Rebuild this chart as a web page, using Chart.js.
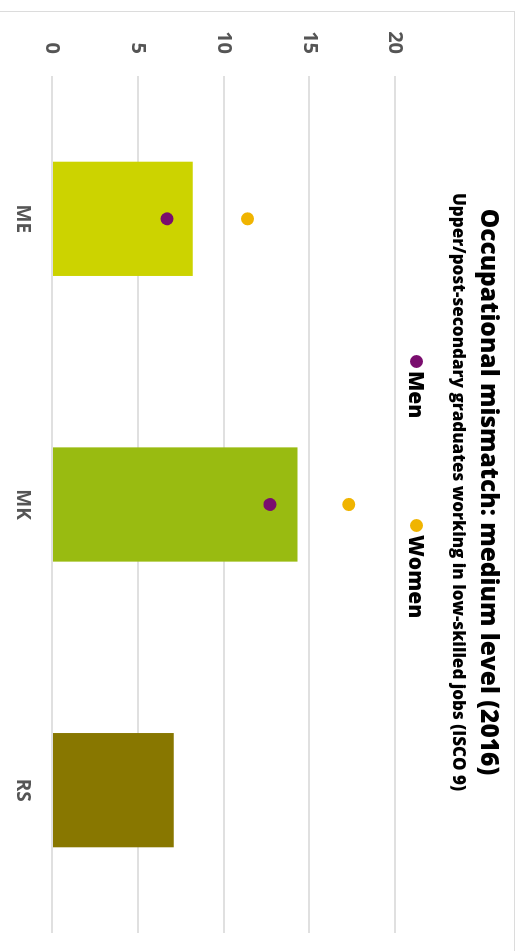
<!DOCTYPE html>
<html>
<head>
<meta charset="utf-8">
<script src="https://cdn.jsdelivr.net/npm/chart.js@4.4.1/dist/chart.umd.min.js"></script>
<style>
  html, body { margin: 0; padding: 0; background: #fff; overflow: hidden; }
  #wrap {
    position: absolute; left: 0; top: 0;
    width: 951px; height: 523px;
    transform-origin: 0 0;
    transform: translate(523px, 0) rotate(90deg);
    overflow: hidden; background: #fff;
  }
  #frame {
    position: absolute; left: 11px; top: 8px;
    width: 960px; height: 515px;
    border-left: 1px solid #dcdcdc; border-top: 1px solid #dcdcdc;
  }
  #frame canvas { position: absolute; left: 0; top: 0; }
  .leg { position: absolute; top: 92px; font: 800 21px "Open Sans", sans-serif; color: #000; line-height: 28px; white-space: nowrap; }
  .leg i { display: inline-block; width: 13px; height: 13px; border-radius: 50%; margin-right: 3px; vertical-align: 1px; }
</style>
</head>
<body>
<div id="wrap">
  <div id="frame"><canvas id="chart" width="960" height="515"></canvas></div>
  <div class="leg" style="left:355px"><i style="background:#7a0d6e"></i>Men</div>
  <div class="leg" style="left:519px"><i style="background:#f0b400"></i>Women</div>
</div>
<script>
// chart data
const categories = ['ME', 'MK', 'RS'];
const totalValues = [8.2, 14.3, 7.1];
const menValues = [6.7, 12.7, null];
const womenValues = [11.4, 17.3, null];
const barColors = ['#ccd300', '#99bb11', '#887700'];
const yTicks = [0, 5, 10, 15, 20];

const font = '"Open Sans", sans-serif';

new Chart(document.getElementById('chart'), {
    data: {
        labels: categories,
        datasets: [
            {
                type: 'line', label: 'Men', data: menValues,
                showLine: false, pointRadius: 6.5, pointHoverRadius: 6.5,
                pointBackgroundColor: '#7a0d6e', pointBorderWidth: 0, order: 1
            },
            {
                type: 'line', label: 'Women', data: womenValues,
                showLine: false, pointRadius: 6.5, pointHoverRadius: 6.5,
                pointBackgroundColor: '#f0b400', pointBorderWidth: 0, order: 1
            },
            {
                type: 'bar', label: 'Total', data: totalValues,
                backgroundColor: barColors, borderWidth: 0,
                barPercentage: 0.4, categoryPercentage: 1, order: 2
            }
        ]
    },
    options: {
        responsive: false,
        animation: false,
        layout: { padding: 0 },
        plugins: {
            legend: { display: false },
            tooltip: { enabled: false },
            title: {
                display: true,
                text: 'Occupational mismatch: medium level (2016)',
                color: '#000',
                font: { family: font, size: 24.5, weight: 800, lineHeight: 1.2 },
                padding: { top: 11, bottom: 0 }
            },
            subtitle: {
                display: true,
                text: 'Upper/post-secondary graduates working in low-skilled jobs (ISCO 9)',
                color: '#000',
                font: { family: font, size: 17, weight: 800, lineHeight: 1.2 },
                padding: { top: 6, bottom: 52 }
            }
        },
        scales: {
            x: {
                grid: { display: false },
                border: { display: false },
                ticks: { color: '#555', padding: 10, font: { family: font, size: 19, weight: 'bold' } },
                afterFit: (s) => { s.height = 53; }
            },
            y: {
                min: yTicks[0],
                max: yTicks[yTicks.length - 1],
                afterBuildTicks: (s) => { s.ticks = yTicks.map(v => ({ value: v })); },
                grid: { color: '#e0e0e0', lineWidth: 2, drawTicks: false },
                border: { display: false },
                ticks: { color: '#555', padding: 22, font: { family: font, size: 20, weight: 'bold' } },
                afterFit: (s) => { s.width = 64; }
            },
            // empty right-hand axis, only reserves the space to the right of the plot
            yRight: {
                position: 'right',
                grid: { display: false },
                border: { display: false },
                ticks: { display: false },
                afterFit: (s) => { s.width = 39; }
            }
        }
    }
});
</script>
</body>
</html>
